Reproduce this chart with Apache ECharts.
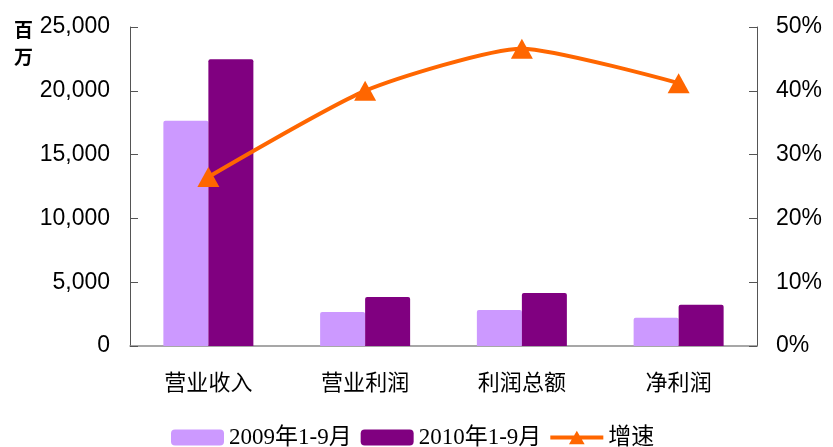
<!DOCTYPE html>
<html>
<head>
<meta charset="utf-8">
<script src="https://cdn.jsdelivr.net/npm/echarts@6/dist/echarts.min.js"></script>
<style>
  html, body { margin: 0; padding: 0; background: #fff; }
  #chart { width: 833px; height: 447px; }
</style>
</head>
<body>
<div id="chart"></div>
<script>
// Categories and series values
const categories = ['营业收入', '营业利润', '利润总额', '净利润'];
const revenue2009 = [17650, 2660, 2820, 2220];   // 百万
const revenue2010 = [22470, 3840, 4150, 3240];   // 百万
const growthRate = [26.5, 40.0, 46.6, 41.2];     // %

const seriesNames = ['2009年1-9月', '2010年1-9月', '增速'];

const axisFont = 'Liberation Sans, Arial, sans-serif';
const cjkFont = 'Noto Sans CJK SC, sans-serif';
const legendFont = 'Liberation Serif, Noto Sans CJK SC, serif';

// Legend icon for the growth line: thick stroke with a triangle marker
const lineLegendIcon = 'path://M0,6h54v4h-54z M19,15L27,1L35,15z';

const chart = echarts.init(document.getElementById('chart'), null, { renderer: 'canvas' });

chart.setOption({
  animation: false,
  backgroundColor: '#ffffff',
  grid: { left: 130, right: 76, top: 27, bottom: 101, containLabel: false },
  legend: {
    left: 166,
    top: 421,
    itemWidth: 53,
    itemHeight: 16,
    itemGap: 9,
    textStyle: { fontFamily: legendFont, fontSize: 23, color: '#000' },
    data: [
      { name: seriesNames[0] },
      { name: seriesNames[1] },
      { name: seriesNames[2], icon: lineLegendIcon }
    ]
  },
  graphic: [
    {
      type: 'text',
      left: 14,
      top: 16,
      style: {
        text: '百\n万',
        font: 'bold 19px "Noto Sans CJK SC", sans-serif',
        fill: '#000',
        lineHeight: 27
      }
    }
  ],
  xAxis: {
    type: 'category',
    data: categories,
    axisLine: { lineStyle: { color: '#8a8a8a', width: 1.5 } },
    axisTick: { inside: true, length: 8, lineStyle: { color: '#444' } },
    axisLabel: { fontFamily: cjkFont, fontSize: 22, color: '#000', margin: 25 }
  },
  yAxis: [
    {
      type: 'value',
      min: 0,
      max: 25000,
      interval: 5000,
      axisLine: { show: true, lineStyle: { color: '#555', width: 1 } },
      axisTick: { show: true, inside: true, length: 8, lineStyle: { color: '#555' } },
      splitLine: { show: false },
      axisLabel: {
        fontFamily: axisFont,
        fontSize: 23,
        color: '#000',
        margin: 20,
        formatter: v => v.toLocaleString('en-US')
      }
    },
    {
      type: 'value',
      min: 0,
      max: 50,
      interval: 10,
      position: 'right',
      axisLine: { show: true, lineStyle: { color: '#555', width: 1 } },
      axisTick: { show: true, inside: true, length: 8, lineStyle: { color: '#555' } },
      splitLine: { show: false },
      axisLabel: {
        fontFamily: axisFont,
        fontSize: 23,
        color: '#000',
        margin: 19,
        formatter: v => v + '%'
      }
    }
  ],
  series: [
    {
      name: seriesNames[0],
      type: 'bar',
      data: revenue2009,
      barWidth: 45,
      barGap: '0%',
      itemStyle: { color: '#CC99FF', borderRadius: [2, 2, 0, 0] }
    },
    {
      name: seriesNames[1],
      type: 'bar',
      data: revenue2010,
      barWidth: 45,
      barGap: '0%',
      itemStyle: { color: '#800080', borderRadius: [2, 2, 0, 0] }
    },
    {
      name: seriesNames[2],
      type: 'line',
      yAxisIndex: 1,
      data: growthRate,
      smooth: 0.2,
      symbol: 'triangle',
      symbolSize: [22, 20],
      lineStyle: { color: '#FF6600', width: 4 },
      itemStyle: { color: '#FF6600' },
      z: 5
    }
  ]
});
</script>
</body>
</html>
